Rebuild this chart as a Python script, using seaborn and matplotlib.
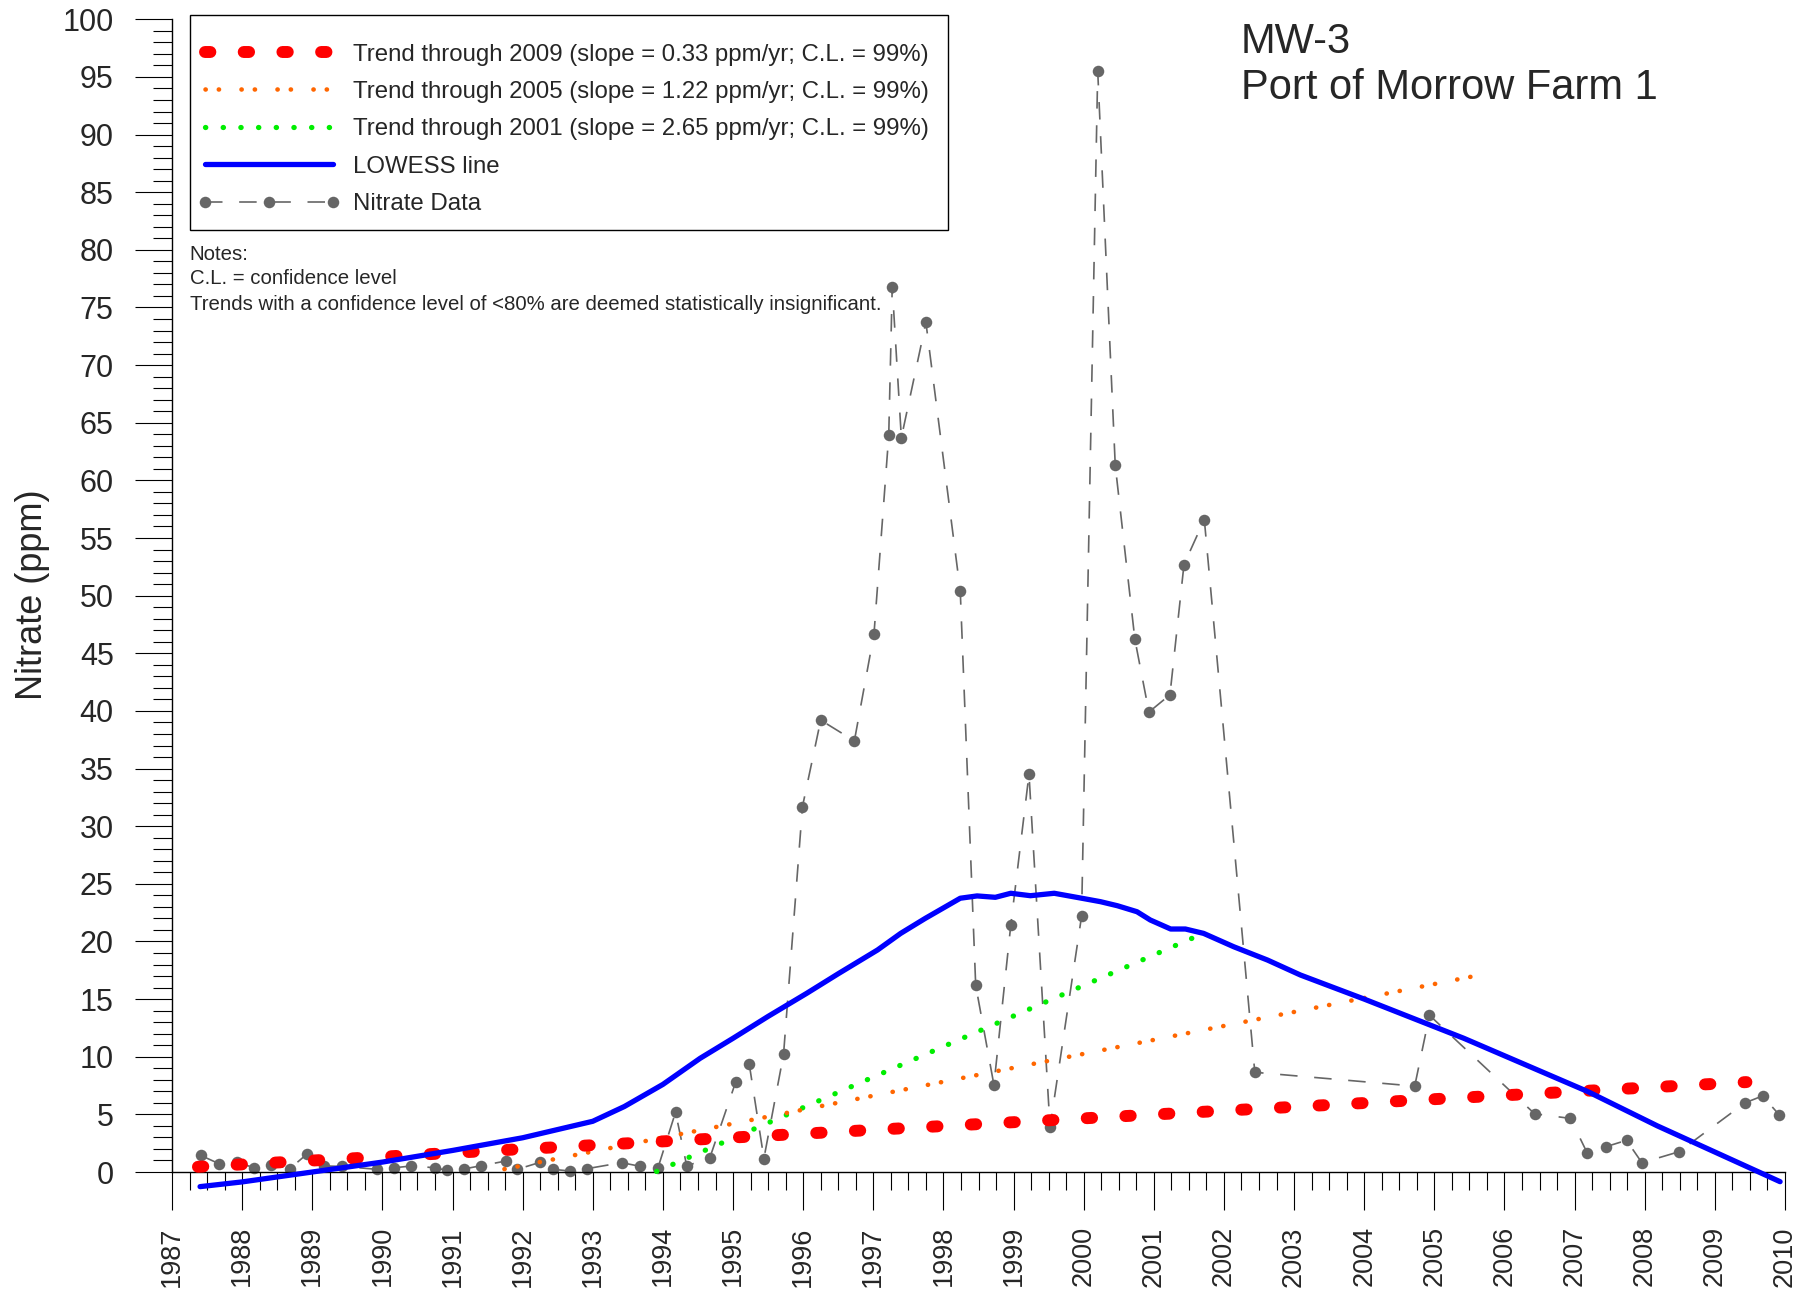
import numpy as np
import pandas as pd
import matplotlib
matplotlib.use("Agg")
import matplotlib.pyplot as plt
from matplotlib.patches import Rectangle
import seaborn as sns

# nitrate samples (decimal year, ppm)
sample_year = [1987.41, 1987.67, 1987.92, 1988.17, 1988.41, 1988.68, 1988.92, 1989.17, 1989.42,
               1989.93, 1990.17, 1990.41, 1990.75, 1990.92, 1991.16, 1991.41, 1991.76, 1991.92,
               1992.25, 1992.43, 1992.67, 1992.92, 1993.41, 1993.68, 1993.93, 1994.18, 1994.34,
               1994.67, 1995.04, 1995.23, 1995.44, 1995.72, 1995.99, 1996.25, 1996.73, 1997.01,
               1997.22, 1997.27, 1997.40, 1997.75, 1998.24, 1998.46, 1998.72, 1998.96, 1999.22,
               1999.52, 1999.97, 2000.20, 2000.45, 2000.73, 2000.93, 2001.23, 2001.43, 2001.72,
               2002.44, 2004.72, 2004.93, 2006.43, 2006.94, 2007.18, 2007.45, 2007.74, 2007.96,
               2008.49, 2009.43, 2009.68, 2009.92]
sample_ppm = [1.44, 0.72, 0.86, 0.37, 0.63, 0.29, 1.53, 0.52, 0.49,
              0.23, 0.37, 0.52, 0.37, 0.14, 0.26, 0.55, 0.95, 0.23,
              0.84, 0.23, 0.09, 0.29, 0.81, 0.49, 0.37, 5.19, 0.52,
              1.25, 7.85, 9.4, 1.17, 10.2, 31.7, 39.2, 37.4, 46.7,
              63.9, 76.8, 63.7, 73.7, 50.4, 16.2, 7.55, 21.4, 34.5,
              3.9, 22.2, 95.5, 61.3, 46.2, 39.9, 41.4, 52.7, 56.6,
              8.65, 7.45, 13.6, 5.05, 4.65, 1.65, 2.2, 2.75, 0.8,
              1.76, 6.0, 6.6, 4.94]

# LOWESS curve
lowess_year = [1987.40, 1988.0, 1989.0, 1990.0, 1991.0, 1992.0, 1993.0, 1993.45, 1994.0, 1994.53,
               1995.0, 1995.5, 1996.05, 1996.5, 1997.06, 1997.39, 1997.74, 1998.24, 1998.48,
               1998.74, 1998.96, 1999.24, 1999.58, 1999.98, 2000.24, 2000.48, 2000.76, 2000.95,
               2001.24, 2001.45, 2001.71, 2002.14, 2002.62, 2003.09, 2004.0, 2005.42, 2007.18,
               2008.18, 2009.93]
lowess_ppm = [-1.27, -0.86, 0.0, 0.86, 1.87, 2.97, 4.4, 5.68, 7.6, 9.86,
              11.6, 13.5, 15.5, 17.2, 19.26, 20.7, 22.0, 23.75, 23.95,
              23.83, 24.18, 23.97, 24.18, 23.74, 23.45, 23.1, 22.58, 21.86,
              21.08, 21.08, 20.7, 19.54, 18.39, 17.09, 15.0, 11.6, 7.0,
              4.0, -0.84]

# trend lines (start / end)
trend09_year = [1987.37, 2009.45]
trend09_ppm = [0.45, 7.80]
trend05_year = [1991.74, 2005.78]
trend05_ppm = [0.25, 17.25]
trend01_year = [1993.91, 2001.63]
trend01_ppm = [0.05, 20.5]

labels = ["Trend through 2009 (slope = 0.33 ppm/yr; C.L. = 99%)",
          "Trend through 2005 (slope = 1.22 ppm/yr; C.L. = 99%)",
          "Trend through 2001 (slope = 2.65 ppm/yr; C.L. = 99%)",
          "LOWESS line",
          "Nitrate Data"]
notes = ["Notes:", "C.L. = confidence level",
         "Trends with a confidence level of <80% are deemed statistically insignificant."]
x_years = list(range(1987, 2011))
y_major = list(range(0, 101, 5))

sns.set_style("white")
plt.rcParams['font.family'] = ['Liberation Sans', 'DejaVu Sans']

W, H = 1812, 1295
fig = plt.figure(figsize=(W / 100, H / 100), dpi=100)
ax_top = 1 - 19.3 / H
ax_h = 11.527 * 103 / H
ax = fig.add_axes([172 / W, ax_top - ax_h, (1785 - 172) / W, ax_h])

samples = pd.DataFrame({"year": sample_year, "ppm": sample_ppm})
lowess = pd.DataFrame({"year": lowess_year, "ppm": lowess_ppm})

sns.lineplot(data=samples, x="year", y="ppm", ax=ax, color="#666666", lw=1.2,
             ls=(0, (10.5, 10)), marker="o", markersize=8.3, markeredgewidth=0,
             label=labels[4], zorder=2)
sns.lineplot(x=trend01_year, y=trend01_ppm, ax=ax, color="#00ee00", lw=3.8,
             ls=(0, (0.05, 3.3)), dash_capstyle="round", label=labels[2], zorder=3)
sns.lineplot(x=trend05_year, y=trend05_ppm, ax=ax, color="#ff6600", lw=3.3,
             ls=(0, (0.05, 2.85, 0.05, 4.9)), dash_capstyle="round", label=labels[1], zorder=3)
sns.lineplot(x=trend09_year, y=trend09_ppm, ax=ax, color="#ff0000", lw=8.6,
             ls=(0, (0.45, 2.79)), dash_capstyle="round", label=labels[0], zorder=4)
sns.lineplot(data=lowess, x="year", y="ppm", ax=ax, color="#0000ff", lw=3.8,
             solid_capstyle="round", label=labels[3], zorder=5)

ax.set_xlim(1987, 2010)
ax.set_ylim(-3, 100)
ax.set_xlabel("")
ax.set_ylabel("Nitrate (ppm)", fontsize=26)
ax.yaxis.set_label_coords(-0.0755, 0.515)

for s in ["top", "right"]:
    ax.spines[s].set_visible(False)
ax.spines["bottom"].set_position(("data", 0))
ax.spines["left"].set_bounds(0, 100)
for s in ["bottom", "left"]:
    ax.spines[s].set_color("black")
    ax.spines[s].set_linewidth(1.0)

ax.set_xticks(x_years)
ax.set_xticklabels([str(y) for y in x_years])
ax.set_xticks(np.arange(1987, 2010.01, 0.25), minor=True)
ax.set_yticks(y_major)
ax.set_yticklabels([str(v) for v in y_major])
ax.set_yticks(np.arange(0, 101, 1), minor=True)
ax.tick_params(axis="x", which="major", direction="out", length=27, width=0.8,
               labelsize=19.5, pad=12, labelrotation=90, bottom=True, color="black")
ax.tick_params(axis="x", which="minor", direction="out", length=13, width=0.8,
               bottom=True, color="black")
ax.tick_params(axis="y", which="major", direction="out", length=27, width=0.8,
               labelsize=22, pad=15, left=True, color="black")
ax.tick_params(axis="y", which="minor", direction="out", length=13.5, width=0.8,
               left=True, color="black")

# legend in the original order, frame drawn separately
by_label = {l.get_label(): l for l in ax.get_lines()}
handles = [by_label[l] for l in labels]
if ax.get_legend() is not None:
    ax.get_legend().remove()
leg = fig.legend(handles, labels, loc="upper left", bbox_to_anchor=(198 / W, 1 - 43.5 / H),
                 fontsize=17.3, frameon=False, handlelength=5.9, handletextpad=0.55,
                 labelspacing=0.64, borderpad=0, borderaxespad=0, numpoints=3)
fig.add_artist(Rectangle((189.5 / W, 1 - 230 / H), (948 - 189.5) / W, (230 - 15) / H,
                         transform=fig.transFigure, fill=False, edgecolor="black", lw=1.0))

for txt, yc in zip(notes, [254, 278.5, 304]):
    fig.text(189.5 / W, 1 - yc / H, txt, fontsize=14.7, va="center", ha="left")

fig.text(1241 / W, 1 - 53 / H, "MW-3", fontsize=30, va="baseline", ha="left")
fig.text(1241 / W, 1 - 99 / H, "Port of Morrow Farm 1", fontsize=30, va="baseline", ha="left")

fig.savefig("out.png", dpi=100, facecolor="white")
